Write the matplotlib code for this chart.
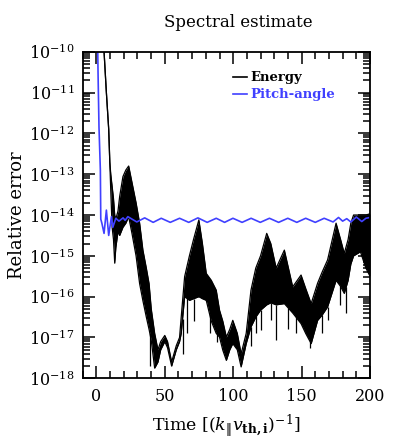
import numpy as np
import matplotlib
matplotlib.use("Agg")
import matplotlib.pyplot as plt
from matplotlib.ticker import LogLocator, MultipleLocator, LogFormatterMathtext, NullFormatter

plt.rcParams['font.family'] = ['DejaVu Serif']
plt.rcParams['mathtext.fontset'] = 'dejavuserif'

#====================== Energy error: band envelope (log10 of relative error)
energy_t = [5.0, 5.6, 7.3, 9.0, 9.8, 10.5, 11.5, 12.5, 13.4, 14.2, 15.8, 17.0, 19.4,
            21.5, 23.6, 26.0, 29.0, 31.6, 34.0, 36.5, 38.5, 40.1, 42.6, 45.0, 47.0,
            50.0, 52.0, 55.0, 58.4, 60.8, 62.0, 64.5, 68.0, 71.0, 74.9, 77.5, 80.3,
            84.0, 87.6, 90.0, 92.4, 95.0, 97.5, 99.7, 103.0, 105.8, 109.5, 113.0,
            116.5, 120.0, 124.5, 127.5, 131.4, 137.4, 143.5, 149.6, 153.0, 157.0,
            161.7, 165.0, 169.0, 175.2, 178.5, 181.2, 184.0, 186.0, 188.0, 193.0,
            197.0, 200.0]
energy_hi = [-9.0, -10.0, -11.0, -11.9, -12.7, -13.0, -13.3, -13.6, -14.0, -14.1,
             -13.9, -13.55, -13.06, -12.9, -12.8, -13.2, -13.7, -14.2, -14.86, -15.3,
             -15.68, -16.3, -16.9, -17.3, -17.1, -16.95, -17.1, -17.6, -17.2, -17.0,
             -16.5, -15.51, -15.0, -14.6, -14.12, -14.7, -15.43, -15.6, -15.84, -16.33,
             -16.6, -16.99, -16.8, -16.58, -16.9, -17.4, -16.9, -15.84, -15.3, -15.0,
             -14.45, -14.7, -15.3, -14.86, -15.76, -15.47, -15.8, -16.17, -15.67,
             -15.4, -15.1, -14.2, -14.6, -14.94, -14.6, -14.2, -14.0, -14.0, -14.0,
             -13.97]
energy_lo = [-9.0, -10.0, -11.0, -11.9, -12.7, -13.4, -14.3, -14.6, -15.18, -14.8,
             -14.4, -14.5, -14.3, -14.2, -14.04, -14.45, -15.0, -15.68, -16.1, -16.5,
             -16.8, -17.07, -17.75, -17.6, -17.3, -17.1, -17.25, -17.7, -17.3, -17.1,
             -16.9, -16.0, -16.09, -16.05, -16.0, -16.05, -16.09, -16.6, -16.9, -16.99,
             -17.31, -17.56, -17.3, -17.15, -17.3, -17.72, -17.15, -16.74, -16.5, -16.33,
             -16.2, -16.15, -16.2, -16.17, -16.4, -16.66, -16.9, -17.15, -16.58,
             -16.45, -16.25, -15.6, -15.75, -15.92, -15.6, -15.2, -15.0, -14.9, -15.3,
             -15.5]

# deep downward spikes in the energy trace
spike_t = [39.0, 63.0, 66.0, 71.0, 82.7, 88.0, 113.0, 117.0, 120.4, 127.7, 131.4, 140.0,
           146.0, 156.0, 165.0, 169.0, 178.0, 182.5]
spike_lo = [-17.7, -17.4, -16.9, -16.6, -16.9, -17.1, -17.2, -16.9, -16.82, -16.58, -17.07,
            -16.8, -16.9, -17.25, -16.9, -16.58, -16.2, -16.4]

#====================== Pitch-angle error
pitch_t = [0.8, 1.2, 1.9, 2.9, 3.2, 4.0, 5.6, 7.3, 9.0, 11.0, 12.0, 14.2, 16.5, 19.5, 21.0,
           23.0, 29.5, 35.3, 41.5, 47.4, 54.0, 60.8, 67.5, 74.2, 81.0, 87.6, 93.7, 99.8,
           106.5, 113.1, 119.8, 126.5, 133.2, 139.9, 146.5, 153.0, 160.0, 166.5, 173.0,
           177.0, 180.0, 183.0, 186.0, 190.0, 194.0, 197.0, 200.0]
pitch_v = [-9.5, -10.5, -11.85, -12.9, -14.1, -14.2, -14.45, -13.88, -14.5, -14.04, -14.3,
           -14.08, -14.15, -14.07, -14.13, -14.04, -14.17, -14.07, -14.18, -14.08, -14.18,
           -14.08, -14.18, -14.07, -14.18, -14.08, -14.18, -14.08, -14.18, -14.08, -14.18,
           -14.08, -14.18, -14.08, -14.18, -14.08, -14.18, -14.08, -14.17, -14.06, -14.15,
           -14.09, -14.17, -14.05, -14.16, -14.08, -14.06]

blue = '#4040ff'

fig = plt.figure(figsize=(3.95, 4.43), dpi=100)
ax = fig.add_axes([0.2094, 0.146, 0.7273, 0.7373])

et = np.array(energy_t)
ehi = 10.0 ** np.array(energy_hi)
elo = 10.0 ** np.array(energy_lo)
ax.fill_between(et, elo, ehi, color='k', linewidth=0)
ax.plot(et, ehi, 'k-', lw=0.9)
ax.plot(et, elo, 'k-', lw=0.9)
sp_t = np.array(spike_t)
sp_top = 10.0 ** np.interp(sp_t, et, energy_lo)
ax.vlines(sp_t, 10.0 ** np.array(spike_lo), sp_top, color='k', lw=0.9)
ax.plot([], [], 'k-', lw=1.2, label='Energy')

ax.plot(pitch_t, 10.0 ** np.array(pitch_v), '-', color=blue, lw=1.2, label='Pitch-angle')

ax.set_yscale('log')
ax.set_xlim(-10, 200)
ax.set_ylim(1e-18, 1e-10)

ax.xaxis.set_major_locator(MultipleLocator(50))
ax.xaxis.set_minor_locator(MultipleLocator(10))
ax.yaxis.set_major_locator(LogLocator(base=10, numticks=20))
ax.yaxis.set_minor_locator(LogLocator(base=10, subs=np.arange(2, 10), numticks=20))
ax.yaxis.set_major_formatter(LogFormatterMathtext())
ax.yaxis.set_minor_formatter(NullFormatter())

ax.tick_params(which='both', direction='in', top=True, right=True, width=1.1)
ax.tick_params(which='major', length=8.5, labelsize=11.5)
ax.tick_params(which='minor', length=5)
ax.tick_params(axis='x', which='major', pad=7)
ax.tick_params(axis='y', which='major', pad=6)
for s in ax.spines.values():
    s.set_linewidth(1.3)

ax.set_xlabel(r'Time $[(k_{\|}v_{\mathbf{th,i}})^{-1}]$', fontsize=12.5, labelpad=6)
ax.set_ylabel('Relative error', fontsize=13, labelpad=2)
fig.text(0.603, 0.950, 'Spectral estimate', fontsize=12, ha='center', va='center')

leg = ax.legend(loc='upper left', bbox_to_anchor=(0.523, 0.94), frameon=False,
                borderpad=0, borderaxespad=0, handlelength=1.05, handletextpad=0.25,
                labelspacing=0.3, labelcolor='linecolor',
                prop={'weight': 'bold', 'size': 9.5})

plt.savefig('out.png', dpi=100)
